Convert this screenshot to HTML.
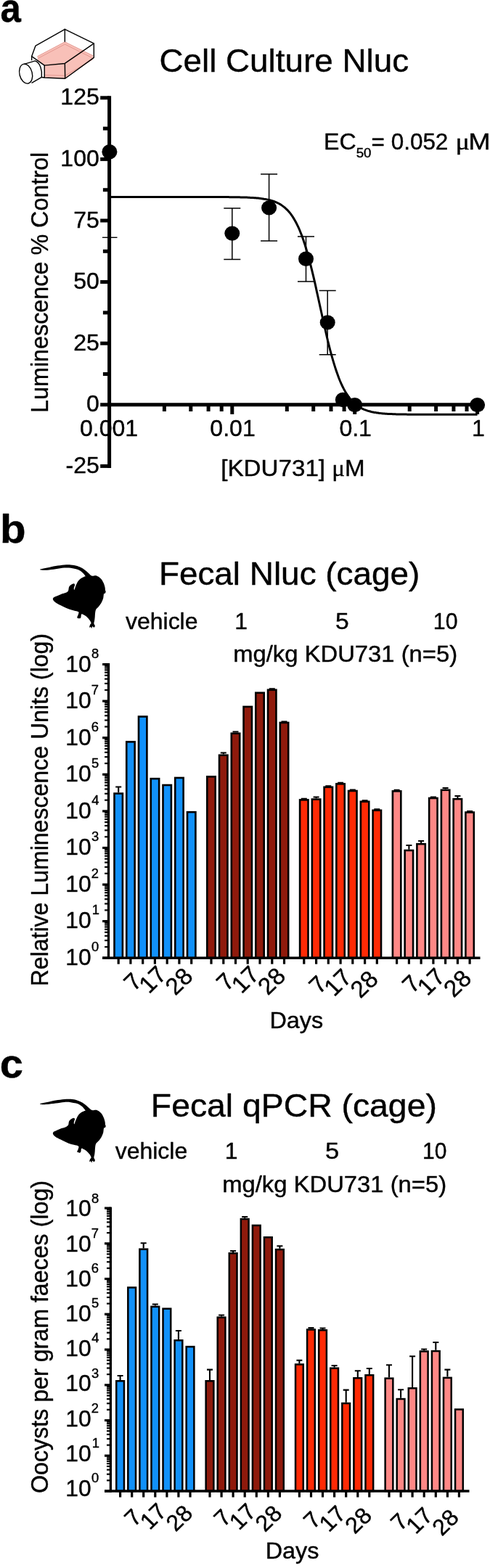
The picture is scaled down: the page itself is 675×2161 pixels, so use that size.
<!DOCTYPE html>
<html><head><meta charset="utf-8"><title>Figure</title>
<style>
html,body{margin:0;padding:0;background:#fff;overflow:hidden;}
svg{display:block;}
text{font-family:"Liberation Sans", Arial, Helvetica, sans-serif;fill:#000;stroke:#000;stroke-width:0.4px;stroke-linejoin:round;}
</style></head><body>
<svg width="675" height="2161" viewBox="0 0 675 2161">
<rect width="675" height="2161" fill="#fff"/>
<g id="panelA">
<text font-size="54.8" font-weight="bold" transform="translate(0.61,29.8) scale(0.9299,1)">a</text>
<g transform="translate(20,35) scale(0.17778)" stroke="#000" stroke-width="8" stroke-linejoin="round" stroke-linecap="round" fill="none">
<path d="M178,240 L390,128 L608,235 L608,262 L392,412 L232,405 L232,310 L178,268 Z" fill="#f8c0b8" stroke="none"/>
<path d="M185,254 L390,146 L598,250 M236,385 L392,390 L604,264 M178,240 L390,128 L608,235" stroke="#e0918a" stroke-width="5"/>
<path d="M133,240 L163,158 L390,30 L615,140 L390,295 L232,310 Z"/>
<path d="M390,30 V125 M615,140 V250 L392,412 L232,405 L210,402 M390,295 L392,412 M232,310 V405 M133,240 V268"/>
<path d="M75,300 L160,275 C200,290 216,350 210,402 L135,445" fill="#fff"/>
<ellipse cx="88" cy="375" rx="49" ry="77" transform="rotate(-14 88 375)" fill="#fff"/>
</g>
<text font-size="45.3" transform="translate(219.42,98.5) scale(1.0112,1)">Cell Culture Nluc</text>
<g stroke="#000" stroke-width="5" fill="none">
<path d="M150.6,132.3 V644.9"/>
<path d="M138.2,642.4 H150.6"/>
<path d="M138.2,473.2 H150.6"/>
<path d="M138.2,388.6 H150.6"/>
<path d="M138.2,304.0 H150.6"/>
<path d="M138.2,219.4 H150.6"/>
<path d="M138.2,134.8 H150.6"/>
<path d="M141.9,177.1 H150.6"/>
<path d="M141.9,261.7 H150.6"/>
<path d="M141.9,346.3 H150.6"/>
<path d="M141.9,430.9 H150.6"/>
<path d="M141.9,515.5 H150.6"/>
<path d="M138.2,557.8 H660"/>
<path d="M226.4,557.8 V567.0"/>
<path d="M262.8,557.8 V567.0"/>
<path d="M287.1,557.8 V567.0"/>
<path d="M305.2,557.8 V567.0"/>
<path d="M395.3,557.8 V567.0"/>
<path d="M431.7,557.8 V567.0"/>
<path d="M456.0,557.8 V567.0"/>
<path d="M474.1,557.8 V567.0"/>
<path d="M564.2,557.8 V567.0"/>
<path d="M600.6,557.8 V567.0"/>
<path d="M624.9,557.8 V567.0"/>
<path d="M643.0,557.8 V567.0"/>
<path d="M319.8,557.8 V570.9"/>
<path d="M488.7,557.8 V570.9"/>
<path d="M657.6,557.8 V570.9"/>
</g>
<text font-size="31" transform="translate(90.58,652.0) scale(1.0350,1)">-25</text>
<text font-size="31" transform="translate(119.04,567.4) scale(1.0350,1)">0</text>
<text font-size="31" transform="translate(101.19,482.8) scale(1.0350,1)">25</text>
<text font-size="31" transform="translate(101.19,398.2) scale(1.0350,1)">50</text>
<text font-size="31" transform="translate(101.19,313.6) scale(1.0350,1)">75</text>
<text font-size="31" transform="translate(83.33,229.0) scale(1.0350,1)">100</text>
<text font-size="31" transform="translate(83.33,144.4) scale(1.0350,1)">125</text>
<text font-size="31" transform="translate(109.92,600.8) scale(1.0350,1)">0.001</text>
<text font-size="31" transform="translate(289.35,600.8) scale(1.0350,1)">0.01</text>
<text font-size="31" transform="translate(467.38,600.8) scale(1.0350,1)">0.1</text>
<text font-size="31" transform="translate(649.88,600.8) scale(1.0350,1)">1</text>
<text font-size="31" transform="translate(304.19,655.7) scale(1.0705,1)">[KDU731] <tspan style='font-family:"Liberation Serif", "DejaVu Serif", serif'>μ</tspan>M</text>
<text font-size="32" transform="translate(66.3,568.98) rotate(-90) scale(1.0101,1.035)">Luminescence % Control</text>
<text font-size="31" transform="translate(446.11,205.5) scale(1.0344,1)">EC</text>
<text font-size="17.5" transform="translate(490.70,216.8) scale(1.0667,1)">50</text>
<text font-size="31" transform="translate(511.58,205.5) scale(1.0143,1)">= 0.052</text>
<text font-size="31" transform="translate(627.58,205.5) scale(1.1686,1)"><tspan style='font-family:"Liberation Serif", "DejaVu Serif", serif'>μ</tspan></text>
<text font-size="31" transform="translate(645.26,205.5) scale(1.1759,1)">M</text>
<path d="M150.9,271.5 L152.6,271.5 L154.3,271.5 L156.0,271.5 L157.7,271.5 L159.3,271.5 L161.0,271.5 L162.7,271.5 L164.4,271.5 L166.1,271.5 L167.8,271.5 L169.5,271.5 L171.2,271.5 L172.9,271.5 L174.5,271.5 L176.2,271.5 L177.9,271.5 L179.6,271.5 L181.3,271.5 L183.0,271.5 L184.7,271.5 L186.4,271.5 L188.1,271.5 L189.7,271.5 L191.4,271.5 L193.1,271.5 L194.8,271.5 L196.5,271.5 L198.2,271.5 L199.9,271.5 L201.6,271.5 L203.3,271.5 L204.9,271.5 L206.6,271.5 L208.3,271.5 L210.0,271.5 L211.7,271.5 L213.4,271.5 L215.1,271.5 L216.8,271.5 L218.5,271.5 L220.1,271.5 L221.8,271.5 L223.5,271.5 L225.2,271.5 L226.9,271.5 L228.6,271.5 L230.3,271.5 L232.0,271.5 L233.7,271.5 L235.4,271.5 L237.0,271.5 L238.7,271.5 L240.4,271.5 L242.1,271.5 L243.8,271.5 L245.5,271.5 L247.2,271.5 L248.9,271.5 L250.6,271.5 L252.2,271.5 L253.9,271.5 L255.6,271.5 L257.3,271.5 L259.0,271.5 L260.7,271.5 L262.4,271.5 L264.1,271.5 L265.8,271.5 L267.4,271.5 L269.1,271.5 L270.8,271.5 L272.5,271.5 L274.2,271.5 L275.9,271.5 L277.6,271.5 L279.3,271.5 L281.0,271.5 L282.6,271.5 L284.3,271.5 L286.0,271.5 L287.7,271.5 L289.4,271.5 L291.1,271.5 L292.8,271.5 L294.5,271.6 L296.2,271.6 L297.8,271.6 L299.5,271.6 L301.2,271.6 L302.9,271.6 L304.6,271.6 L306.3,271.6 L308.0,271.6 L309.7,271.6 L311.4,271.6 L313.0,271.6 L314.7,271.6 L316.4,271.7 L318.1,271.7 L319.8,271.7 L321.5,271.7 L323.2,271.7 L324.9,271.8 L326.6,271.8 L328.2,271.8 L329.9,271.8 L331.6,271.9 L333.3,271.9 L335.0,272.0 L336.7,272.0 L338.4,272.1 L340.1,272.1 L341.8,272.2 L343.4,272.3 L345.1,272.4 L346.8,272.5 L348.5,272.6 L350.2,272.7 L351.9,272.8 L353.6,272.9 L355.3,273.1 L357.0,273.3 L358.6,273.5 L360.3,273.7 L362.0,273.9 L363.7,274.2 L365.4,274.4 L367.1,274.8 L368.8,275.1 L370.5,275.5 L372.2,275.9 L373.8,276.4 L375.5,276.9 L377.2,277.5 L378.9,278.1 L380.6,278.8 L382.3,279.6 L384.0,280.5 L385.7,281.4 L387.4,282.4 L389.0,283.6 L390.7,284.9 L392.4,286.2 L394.1,287.8 L395.8,289.4 L397.5,291.3 L399.2,293.2 L400.9,295.4 L402.6,297.8 L404.2,300.4 L405.9,303.2 L407.6,306.3 L409.3,309.6 L411.0,313.2 L412.7,317.0 L414.4,321.2 L416.1,325.6 L417.8,330.4 L419.5,335.4 L421.1,340.8 L422.8,346.5 L424.5,352.5 L426.2,358.7 L427.9,365.3 L429.6,372.1 L431.3,379.1 L433.0,386.4 L434.7,393.8 L436.3,401.4 L438.0,409.0 L439.7,416.8 L441.4,424.5 L443.1,432.3 L444.8,440.0 L446.5,447.6 L448.2,455.0 L449.9,462.3 L451.5,469.4 L453.2,476.2 L454.9,482.8 L456.6,489.2 L458.3,495.2 L460.0,500.9 L461.7,506.4 L463.4,511.5 L465.1,516.3 L466.7,520.8 L468.4,525.0 L470.1,528.9 L471.8,532.5 L473.5,535.9 L475.2,539.0 L476.9,541.9 L478.6,544.5 L480.3,547.0 L481.9,549.2 L483.6,551.2 L485.3,553.1 L487.0,554.8 L488.7,556.3 L490.4,557.7 L492.1,559.0 L493.8,560.2 L495.5,561.2 L497.1,562.2 L498.8,563.1 L500.5,563.9 L502.2,564.6 L503.9,565.2 L505.6,565.8 L507.3,566.4 L509.0,566.8 L510.7,567.3 L512.3,567.7 L514.0,568.0 L515.7,568.4 L517.4,568.6 L519.1,568.9 L520.8,569.1 L522.5,569.4 L524.2,569.6 L525.9,569.7 L527.5,569.9 L529.2,570.0 L530.9,570.2 L532.6,570.3 L534.3,570.4 L536.0,570.5 L537.7,570.6 L539.4,570.6 L541.1,570.7 L542.7,570.8 L544.4,570.8 L546.1,570.9 L547.8,570.9 L549.5,571.0 L551.2,571.0 L552.9,571.0 L554.6,571.1 L556.3,571.1 L557.9,571.1 L559.6,571.1 L561.3,571.2 L563.0,571.2 L564.7,571.2 L566.4,571.2 L568.1,571.2 L569.8,571.2 L571.5,571.2 L573.1,571.2 L574.8,571.3 L576.5,571.3 L578.2,571.3 L579.9,571.3 L581.6,571.3 L583.3,571.3 L585.0,571.3 L586.7,571.3 L588.4,571.3 L590.0,571.3 L591.7,571.3 L593.4,571.3 L595.1,571.3 L596.8,571.3 L598.5,571.3 L600.2,571.3 L601.9,571.3 L603.6,571.3 L605.2,571.3 L606.9,571.3 L608.6,571.3 L610.3,571.3 L612.0,571.3 L613.7,571.3 L615.4,571.3 L617.1,571.3 L618.8,571.3 L620.4,571.3 L622.1,571.3 L623.8,571.3 L625.5,571.3 L627.2,571.3 L628.9,571.3 L630.6,571.3 L632.3,571.3 L634.0,571.3 L635.6,571.3 L637.3,571.3 L639.0,571.3 L640.7,571.3 L642.4,571.3 L644.1,571.3 L645.8,571.3 L647.5,571.3 L649.2,571.3 L650.8,571.3 L652.5,571.3 L654.2,571.3 L655.9,571.3 L657.6,571.3" stroke="#000" stroke-width="3" fill="none"/>
<path d="M141,327.3 H161.5" stroke="#000" stroke-width="1.4"/>
<ellipse cx="150.9" cy="209.2" rx="10.5" ry="10.2" fill="#000"/>
<path d="M319.8,357.5 V287.1 M308.3,357.5 H331.3 M308.3,287.1 H331.3" stroke="#000" stroke-width="1.5" fill="none"/>
<ellipse cx="319.8" cy="321.6" rx="10.5" ry="10.2" fill="#000"/>
<path d="M370.6,332.1 V240.0 M359.1,332.1 H382.1 M359.1,240.0 H382.1" stroke="#000" stroke-width="1.5" fill="none"/>
<ellipse cx="370.6" cy="286.4" rx="10.5" ry="10.2" fill="#000"/>
<path d="M421.5,387.9 V326.0 M410.0,387.9 H433.0 M410.0,326.0 H433.0" stroke="#000" stroke-width="1.5" fill="none"/>
<ellipse cx="421.5" cy="356.8" rx="10.5" ry="10.2" fill="#000"/>
<path d="M451.2,488.8 V400.4 M439.7,488.8 H462.7 M439.7,400.4 H462.7" stroke="#000" stroke-width="1.5" fill="none"/>
<ellipse cx="451.2" cy="444.4" rx="10.5" ry="10.2" fill="#000"/>
<ellipse cx="472.3" cy="551.0" rx="10.5" ry="10.2" fill="#000"/>
<ellipse cx="488.7" cy="558.1" rx="10.5" ry="10.2" fill="#000"/>
<ellipse cx="657.6" cy="558.1" rx="10.5" ry="10.2" fill="#000"/>
</g>
<g id="panelB">
<text font-size="54.8" font-weight="bold" transform="translate(-0.12,748.2) scale(1.0631,1)">b</text>
<path transform="translate(50,770) scale(0.14815)" d="M42,97 C52,94 77,90 100,85 C123,80 153,72 180,68 C207,64 237,60 260,58 C283,56 300,55 320,57 C340,59 362,62 380,68 C398,74 415,81 430,90 C445,99 458,110 470,120 C482,130 492,141 500,148 C508,155 510,158 520,160 C530,162 547,154 560,158 C573,162 589,174 600,185 C611,196 619,212 625,225 C631,238 635,254 638,265 C641,276 640,285 641,292 C642,299 646,301 646,306 C646,311 643,318 640,322 C637,326 631,320 628,328 C625,336 626,356 622,370 C618,384 612,398 605,410 C598,422 588,435 580,445 C572,455 561,461 556,470 C551,479 550,488 548,500 C546,512 546,527 545,540 C544,553 542,570 540,580 C538,590 535,594 536,602 C537,610 546,619 546,625 C546,631 540,639 536,640 C532,641 526,629 522,630 C518,631 518,647 515,648 C512,649 510,635 506,634 C502,633 495,643 494,640 C493,637 497,622 500,615 C503,608 511,606 510,598 C509,590 502,579 495,570 C488,561 479,550 470,542 C461,534 448,526 440,522 C432,518 424,512 420,516 C416,520 417,539 414,546 C411,553 406,556 400,556 C394,556 382,554 380,548 C378,542 388,529 390,520 C392,511 399,501 392,495 C385,489 365,486 350,482 C335,478 317,474 300,468 C283,462 267,453 250,445 C233,437 213,428 200,420 C187,412 178,407 170,400 C162,393 157,386 155,380 C153,374 155,367 160,362 C165,357 173,355 185,350 C197,345 216,335 230,330 C244,325 259,323 270,318 C281,313 290,309 296,300 C302,291 300,272 305,262 C310,252 318,247 325,242 C332,237 344,231 350,232 C356,233 358,240 358,246 C358,252 351,263 350,270 C349,277 350,292 353,290 C356,288 360,270 365,258 C370,246 378,227 385,215 C392,203 401,194 410,187 C419,180 432,174 440,170 C448,166 456,169 456,164 C456,159 448,148 440,140 C432,132 422,120 410,113 C398,106 385,100 370,96 C355,92 338,88 320,86 C302,84 283,83 260,85 C237,87 207,92 180,96 C153,100 123,104 100,106 C77,108 52,106 42,105 C32,104 32,100 42,97Z" fill="#000"/>
<text font-size="45.3" transform="translate(218.90,805.7) scale(1.0129,1)">Fecal Nluc (cage)</text>
<text font-size="31" transform="translate(173.04,866.7) scale(1.0311,1)">vehicle</text>
<text font-size="31" transform="translate(323.33,866.7) scale(1.0300,1)">1</text>
<text font-size="31" transform="translate(461.94,866.7) scale(1.0847,1)">5</text>
<text font-size="31" transform="translate(596.80,866.7) scale(0.9774,1)">10</text>
<text font-size="31" transform="translate(321.18,912.3) scale(1.0581,1)">mg/kg KDU731 (n=5)</text>
<path d="M163.2,1092.3 V1084.5 M159.2,1084.5 H167.2" stroke="#000" stroke-width="2.1" fill="none"/>
<rect x="157.50" y="1093.60" width="11.40" height="226.60" fill="#1191fa" stroke="#000" stroke-width="2.6"/>
<rect x="174.25" y="1022.40" width="11.40" height="297.80" fill="#1191fa" stroke="#000" stroke-width="2.6"/>
<rect x="191.00" y="987.60" width="11.40" height="332.60" fill="#1191fa" stroke="#000" stroke-width="2.6"/>
<rect x="207.75" y="1073.20" width="11.40" height="247.00" fill="#1191fa" stroke="#000" stroke-width="2.6"/>
<rect x="224.50" y="1082.00" width="11.40" height="238.20" fill="#1191fa" stroke="#000" stroke-width="2.6"/>
<rect x="241.25" y="1072.00" width="11.40" height="248.20" fill="#1191fa" stroke="#000" stroke-width="2.6"/>
<rect x="258.00" y="1119.20" width="11.40" height="201.00" fill="#1191fa" stroke="#000" stroke-width="2.6"/>
<rect x="285.30" y="1070.40" width="11.40" height="249.80" fill="#8f1a0c" stroke="#000" stroke-width="2.6"/>
<path d="M307.8,1039.5 V1037.5 M303.8,1037.5 H311.8" stroke="#000" stroke-width="2.1" fill="none"/>
<rect x="302.05" y="1040.80" width="11.40" height="279.40" fill="#8f1a0c" stroke="#000" stroke-width="2.6"/>
<path d="M324.5,1009.5 V1008.5 M320.5,1008.5 H328.5" stroke="#000" stroke-width="2.1" fill="none"/>
<rect x="318.80" y="1010.80" width="11.40" height="309.40" fill="#8f1a0c" stroke="#000" stroke-width="2.6"/>
<rect x="335.55" y="974.00" width="11.40" height="346.20" fill="#8f1a0c" stroke="#000" stroke-width="2.6"/>
<rect x="352.30" y="954.80" width="11.40" height="365.40" fill="#8f1a0c" stroke="#000" stroke-width="2.6"/>
<path d="M374.8,949.5 V949.3 M370.8,949.3 H378.8" stroke="#000" stroke-width="2.1" fill="none"/>
<rect x="369.05" y="950.80" width="11.40" height="369.40" fill="#8f1a0c" stroke="#000" stroke-width="2.6"/>
<path d="M391.5,994.7 V994.5 M387.5,994.5 H395.5" stroke="#000" stroke-width="2.1" fill="none"/>
<rect x="385.80" y="996.00" width="11.40" height="324.20" fill="#8f1a0c" stroke="#000" stroke-width="2.6"/>
<path d="M418.8,1101.1 V1100.9 M414.8,1100.9 H422.8" stroke="#000" stroke-width="2.1" fill="none"/>
<rect x="413.10" y="1102.40" width="11.40" height="217.80" fill="#ff2a05" stroke="#000" stroke-width="2.6"/>
<path d="M435.6,1100.3 V1098.5 M431.6,1098.5 H439.6" stroke="#000" stroke-width="2.1" fill="none"/>
<rect x="429.85" y="1101.60" width="11.40" height="218.60" fill="#ff2a05" stroke="#000" stroke-width="2.6"/>
<path d="M452.3,1083.5 V1083.3 M448.3,1083.3 H456.3" stroke="#000" stroke-width="2.1" fill="none"/>
<rect x="446.60" y="1084.80" width="11.40" height="235.40" fill="#ff2a05" stroke="#000" stroke-width="2.6"/>
<path d="M469.1,1079.1 V1078.9 M465.1,1078.9 H473.1" stroke="#000" stroke-width="2.1" fill="none"/>
<rect x="463.35" y="1080.40" width="11.40" height="239.80" fill="#ff2a05" stroke="#000" stroke-width="2.6"/>
<path d="M485.8,1088.7 V1088.5 M481.8,1088.5 H489.8" stroke="#000" stroke-width="2.1" fill="none"/>
<rect x="480.10" y="1090.00" width="11.40" height="230.20" fill="#ff2a05" stroke="#000" stroke-width="2.6"/>
<path d="M502.6,1103.5 V1103.3 M498.6,1103.3 H506.6" stroke="#000" stroke-width="2.1" fill="none"/>
<rect x="496.85" y="1104.80" width="11.40" height="215.40" fill="#ff2a05" stroke="#000" stroke-width="2.6"/>
<path d="M519.3,1115.5 V1115.3 M515.3,1115.3 H523.3" stroke="#000" stroke-width="2.1" fill="none"/>
<rect x="513.60" y="1116.80" width="11.40" height="203.40" fill="#ff2a05" stroke="#000" stroke-width="2.6"/>
<path d="M546.6,1089.1 V1088.9 M542.6,1088.9 H550.6" stroke="#000" stroke-width="2.1" fill="none"/>
<rect x="540.90" y="1090.40" width="11.40" height="229.80" fill="#ff8886" stroke="#000" stroke-width="2.6"/>
<path d="M563.4,1170.7 V1165.0 M559.4,1165.0 H567.4" stroke="#000" stroke-width="2.1" fill="none"/>
<rect x="557.65" y="1172.00" width="11.40" height="148.20" fill="#ff8886" stroke="#000" stroke-width="2.6"/>
<path d="M580.1,1161.9 V1159.0 M576.1,1159.0 H584.1" stroke="#000" stroke-width="2.1" fill="none"/>
<rect x="574.40" y="1163.20" width="11.40" height="157.00" fill="#ff8886" stroke="#000" stroke-width="2.6"/>
<path d="M596.9,1098.7 V1098.5 M592.9,1098.5 H600.9" stroke="#000" stroke-width="2.1" fill="none"/>
<rect x="591.15" y="1100.00" width="11.40" height="220.20" fill="#ff8886" stroke="#000" stroke-width="2.6"/>
<path d="M613.6,1087.5 V1086.0 M609.6,1086.0 H617.6" stroke="#000" stroke-width="2.1" fill="none"/>
<rect x="607.90" y="1088.80" width="11.40" height="231.40" fill="#ff8886" stroke="#000" stroke-width="2.6"/>
<path d="M630.4,1099.9 V1097.0 M626.4,1097.0 H634.4" stroke="#000" stroke-width="2.1" fill="none"/>
<rect x="624.65" y="1101.20" width="11.40" height="219.00" fill="#ff8886" stroke="#000" stroke-width="2.6"/>
<path d="M647.1,1118.3 V1118.1 M643.1,1118.1 H651.1" stroke="#000" stroke-width="2.1" fill="none"/>
<rect x="641.40" y="1119.60" width="11.40" height="200.60" fill="#ff8886" stroke="#000" stroke-width="2.6"/>
<g stroke="#000" fill="none">
<path d="M149.5,914.0 V1321.9" stroke-width="3.3"/>
<path d="M141.1,1320.2 H149.5" stroke-width="3.2"/>
<path d="M144.1,1305.0 H149.5" stroke-width="2.2"/>
<path d="M144.1,1296.1 H149.5" stroke-width="2.2"/>
<path d="M144.1,1289.8 H149.5" stroke-width="2.2"/>
<path d="M144.1,1284.8 H149.5" stroke-width="2.2"/>
<path d="M144.1,1280.8 H149.5" stroke-width="2.2"/>
<path d="M144.1,1277.5 H149.5" stroke-width="2.2"/>
<path d="M144.1,1274.5 H149.5" stroke-width="2.2"/>
<path d="M144.1,1271.9 H149.5" stroke-width="2.2"/>
<path d="M141.1,1269.6 H149.5" stroke-width="3.2"/>
<path d="M144.1,1254.4 H149.5" stroke-width="2.2"/>
<path d="M144.1,1245.5 H149.5" stroke-width="2.2"/>
<path d="M144.1,1239.2 H149.5" stroke-width="2.2"/>
<path d="M144.1,1234.3 H149.5" stroke-width="2.2"/>
<path d="M144.1,1230.3 H149.5" stroke-width="2.2"/>
<path d="M144.1,1226.9 H149.5" stroke-width="2.2"/>
<path d="M144.1,1224.0 H149.5" stroke-width="2.2"/>
<path d="M144.1,1221.4 H149.5" stroke-width="2.2"/>
<path d="M141.1,1219.1 H149.5" stroke-width="3.2"/>
<path d="M144.1,1203.8 H149.5" stroke-width="2.2"/>
<path d="M144.1,1194.9 H149.5" stroke-width="2.2"/>
<path d="M144.1,1188.6 H149.5" stroke-width="2.2"/>
<path d="M144.1,1183.7 H149.5" stroke-width="2.2"/>
<path d="M144.1,1179.7 H149.5" stroke-width="2.2"/>
<path d="M144.1,1176.3 H149.5" stroke-width="2.2"/>
<path d="M144.1,1173.4 H149.5" stroke-width="2.2"/>
<path d="M144.1,1170.8 H149.5" stroke-width="2.2"/>
<path d="M141.1,1168.5 H149.5" stroke-width="3.2"/>
<path d="M144.1,1153.3 H149.5" stroke-width="2.2"/>
<path d="M144.1,1144.3 H149.5" stroke-width="2.2"/>
<path d="M144.1,1138.0 H149.5" stroke-width="2.2"/>
<path d="M144.1,1133.1 H149.5" stroke-width="2.2"/>
<path d="M144.1,1129.1 H149.5" stroke-width="2.2"/>
<path d="M144.1,1125.7 H149.5" stroke-width="2.2"/>
<path d="M144.1,1122.8 H149.5" stroke-width="2.2"/>
<path d="M144.1,1120.2 H149.5" stroke-width="2.2"/>
<path d="M141.1,1117.9 H149.5" stroke-width="3.2"/>
<path d="M144.1,1102.7 H149.5" stroke-width="2.2"/>
<path d="M144.1,1093.8 H149.5" stroke-width="2.2"/>
<path d="M144.1,1087.5 H149.5" stroke-width="2.2"/>
<path d="M144.1,1082.5 H149.5" stroke-width="2.2"/>
<path d="M144.1,1078.5 H149.5" stroke-width="2.2"/>
<path d="M144.1,1075.2 H149.5" stroke-width="2.2"/>
<path d="M144.1,1072.2 H149.5" stroke-width="2.2"/>
<path d="M144.1,1069.6 H149.5" stroke-width="2.2"/>
<path d="M141.1,1067.3 H149.5" stroke-width="3.2"/>
<path d="M144.1,1052.1 H149.5" stroke-width="2.2"/>
<path d="M144.1,1043.2 H149.5" stroke-width="2.2"/>
<path d="M144.1,1036.9 H149.5" stroke-width="2.2"/>
<path d="M144.1,1032.0 H149.5" stroke-width="2.2"/>
<path d="M144.1,1028.0 H149.5" stroke-width="2.2"/>
<path d="M144.1,1024.6 H149.5" stroke-width="2.2"/>
<path d="M144.1,1021.7 H149.5" stroke-width="2.2"/>
<path d="M144.1,1019.1 H149.5" stroke-width="2.2"/>
<path d="M141.1,1016.8 H149.5" stroke-width="3.2"/>
<path d="M144.1,1001.5 H149.5" stroke-width="2.2"/>
<path d="M144.1,992.6 H149.5" stroke-width="2.2"/>
<path d="M144.1,986.3 H149.5" stroke-width="2.2"/>
<path d="M144.1,981.4 H149.5" stroke-width="2.2"/>
<path d="M144.1,977.4 H149.5" stroke-width="2.2"/>
<path d="M144.1,974.0 H149.5" stroke-width="2.2"/>
<path d="M144.1,971.1 H149.5" stroke-width="2.2"/>
<path d="M144.1,968.5 H149.5" stroke-width="2.2"/>
<path d="M141.1,966.2 H149.5" stroke-width="3.2"/>
<path d="M144.1,951.0 H149.5" stroke-width="2.2"/>
<path d="M144.1,942.0 H149.5" stroke-width="2.2"/>
<path d="M144.1,935.7 H149.5" stroke-width="2.2"/>
<path d="M144.1,930.8 H149.5" stroke-width="2.2"/>
<path d="M144.1,926.8 H149.5" stroke-width="2.2"/>
<path d="M144.1,923.4 H149.5" stroke-width="2.2"/>
<path d="M144.1,920.5 H149.5" stroke-width="2.2"/>
<path d="M144.1,917.9 H149.5" stroke-width="2.2"/>
<path d="M141.1,915.6 H149.5" stroke-width="3.2"/>
<path d="M141.1,1320.2 H661.5" stroke-width="3.6"/>
<path d="M163.2,1320.2 V1328.7" stroke-width="3.2"/>
<path d="M179.9,1320.2 V1328.7" stroke-width="3.2"/>
<path d="M196.7,1320.2 V1328.7" stroke-width="3.2"/>
<path d="M213.4,1320.2 V1328.7" stroke-width="3.2"/>
<path d="M230.2,1320.2 V1328.7" stroke-width="3.2"/>
<path d="M246.9,1320.2 V1328.7" stroke-width="3.2"/>
<path d="M263.7,1320.2 V1328.7" stroke-width="3.2"/>
<path d="M291.0,1320.2 V1328.7" stroke-width="3.2"/>
<path d="M307.8,1320.2 V1328.7" stroke-width="3.2"/>
<path d="M324.5,1320.2 V1328.7" stroke-width="3.2"/>
<path d="M341.2,1320.2 V1328.7" stroke-width="3.2"/>
<path d="M358.0,1320.2 V1328.7" stroke-width="3.2"/>
<path d="M374.8,1320.2 V1328.7" stroke-width="3.2"/>
<path d="M391.5,1320.2 V1328.7" stroke-width="3.2"/>
<path d="M418.8,1320.2 V1328.7" stroke-width="3.2"/>
<path d="M435.6,1320.2 V1328.7" stroke-width="3.2"/>
<path d="M452.3,1320.2 V1328.7" stroke-width="3.2"/>
<path d="M469.1,1320.2 V1328.7" stroke-width="3.2"/>
<path d="M485.8,1320.2 V1328.7" stroke-width="3.2"/>
<path d="M502.6,1320.2 V1328.7" stroke-width="3.2"/>
<path d="M519.3,1320.2 V1328.7" stroke-width="3.2"/>
<path d="M546.6,1320.2 V1328.7" stroke-width="3.2"/>
<path d="M563.4,1320.2 V1328.7" stroke-width="3.2"/>
<path d="M580.1,1320.2 V1328.7" stroke-width="3.2"/>
<path d="M596.9,1320.2 V1328.7" stroke-width="3.2"/>
<path d="M613.6,1320.2 V1328.7" stroke-width="3.2"/>
<path d="M630.4,1320.2 V1328.7" stroke-width="3.2"/>
<path d="M647.1,1320.2 V1328.7" stroke-width="3.2"/>
</g>
<text font-size="31" transform="translate(90.29,1329.6) scale(1.0258,1)">10</text>
<text font-size="17.8" transform="translate(126.02,1310.8) scale(1.0350,1)">0</text>
<text font-size="31" transform="translate(90.29,1279.1) scale(1.0258,1)">10</text>
<text font-size="17.8" transform="translate(126.71,1260.3) scale(1.0350,1)">1</text>
<text font-size="31" transform="translate(90.29,1228.6) scale(1.0258,1)">10</text>
<text font-size="17.8" transform="translate(125.77,1209.8) scale(1.0350,1)">2</text>
<text font-size="31" transform="translate(90.29,1178.1) scale(1.0258,1)">10</text>
<text font-size="17.8" transform="translate(126.02,1159.3) scale(1.0350,1)">3</text>
<text font-size="31" transform="translate(90.29,1127.6) scale(1.0258,1)">10</text>
<text font-size="17.8" transform="translate(126.28,1108.8) scale(1.0350,1)">4</text>
<text font-size="31" transform="translate(90.29,1077.1) scale(1.0258,1)">10</text>
<text font-size="17.8" transform="translate(126.02,1058.3) scale(1.0350,1)">5</text>
<text font-size="31" transform="translate(90.29,1026.6) scale(1.0258,1)">10</text>
<text font-size="17.8" transform="translate(125.77,1007.8) scale(1.0350,1)">6</text>
<text font-size="31" transform="translate(90.29,976.1) scale(1.0258,1)">10</text>
<text font-size="17.8" transform="translate(125.77,957.3) scale(1.0350,1)">7</text>
<text font-size="31" transform="translate(90.29,925.6) scale(1.0258,1)">10</text>
<text font-size="17.8" transform="translate(126.02,906.8) scale(1.0350,1)">8</text>
<text font-size="32.5" text-anchor="end" transform="translate(197.60,1354.50) scale(1.03,1) rotate(-45)">7</text>
<text font-size="32.5" text-anchor="end" transform="translate(231.50,1345.00) scale(1.03,1) rotate(-45)">17</text>
<text font-size="32.5" text-anchor="end" transform="translate(267.75,1347.40) scale(1.03,1) rotate(-45)">28</text>
<text font-size="32.5" text-anchor="end" transform="translate(325.20,1354.40) scale(1.03,1) rotate(-45)">7</text>
<text font-size="32.5" text-anchor="end" transform="translate(359.10,1344.90) scale(1.03,1) rotate(-45)">17</text>
<text font-size="32.5" text-anchor="end" transform="translate(395.35,1347.30) scale(1.03,1) rotate(-45)">28</text>
<text font-size="32.5" text-anchor="end" transform="translate(452.70,1358.50) scale(1.03,1) rotate(-45)">7</text>
<text font-size="32.5" text-anchor="end" transform="translate(486.60,1349.00) scale(1.03,1) rotate(-45)">17</text>
<text font-size="32.5" text-anchor="end" transform="translate(522.85,1351.40) scale(1.03,1) rotate(-45)">28</text>
<text font-size="32.5" text-anchor="end" transform="translate(581.20,1357.50) scale(1.03,1) rotate(-45)">7</text>
<text font-size="32.5" text-anchor="end" transform="translate(615.10,1348.00) scale(1.03,1) rotate(-45)">17</text>
<text font-size="32.5" text-anchor="end" transform="translate(651.35,1350.40) scale(1.03,1) rotate(-45)">28</text>
<text font-size="31" transform="translate(371.39,1417.3) scale(1.0448,1)">Days</text>
<text font-size="32" transform="translate(66.3,1359.36) rotate(-90) scale(1.0022,1.035)">Relative Luminescence Units (log)</text>
</g>
<g id="panelC">
<text font-size="54.8" font-weight="bold" transform="translate(-0.18,1485.3) scale(1.0566,1)">c</text>
<path transform="translate(50,1506.4) scale(0.14815)" d="M42,97 C52,94 77,90 100,85 C123,80 153,72 180,68 C207,64 237,60 260,58 C283,56 300,55 320,57 C340,59 362,62 380,68 C398,74 415,81 430,90 C445,99 458,110 470,120 C482,130 492,141 500,148 C508,155 510,158 520,160 C530,162 547,154 560,158 C573,162 589,174 600,185 C611,196 619,212 625,225 C631,238 635,254 638,265 C641,276 640,285 641,292 C642,299 646,301 646,306 C646,311 643,318 640,322 C637,326 631,320 628,328 C625,336 626,356 622,370 C618,384 612,398 605,410 C598,422 588,435 580,445 C572,455 561,461 556,470 C551,479 550,488 548,500 C546,512 546,527 545,540 C544,553 542,570 540,580 C538,590 535,594 536,602 C537,610 546,619 546,625 C546,631 540,639 536,640 C532,641 526,629 522,630 C518,631 518,647 515,648 C512,649 510,635 506,634 C502,633 495,643 494,640 C493,637 497,622 500,615 C503,608 511,606 510,598 C509,590 502,579 495,570 C488,561 479,550 470,542 C461,534 448,526 440,522 C432,518 424,512 420,516 C416,520 417,539 414,546 C411,553 406,556 400,556 C394,556 382,554 380,548 C378,542 388,529 390,520 C392,511 399,501 392,495 C385,489 365,486 350,482 C335,478 317,474 300,468 C283,462 267,453 250,445 C233,437 213,428 200,420 C187,412 178,407 170,400 C162,393 157,386 155,380 C153,374 155,367 160,362 C165,357 173,355 185,350 C197,345 216,335 230,330 C244,325 259,323 270,318 C281,313 290,309 296,300 C302,291 300,272 305,262 C310,252 318,247 325,242 C332,237 344,231 350,232 C356,233 358,240 358,246 C358,252 351,263 350,270 C349,277 350,292 353,290 C356,288 360,270 365,258 C370,246 378,227 385,215 C392,203 401,194 410,187 C419,180 432,174 440,170 C448,166 456,169 456,164 C456,159 448,148 440,140 C432,132 422,120 410,113 C398,106 385,100 370,96 C355,92 338,88 320,86 C302,84 283,83 260,85 C237,87 207,92 180,96 C153,100 123,104 100,106 C77,108 52,106 42,105 C32,104 32,100 42,97Z" fill="#000"/>
<text font-size="45.3" transform="translate(207.86,1538.8) scale(1.0232,1)">Fecal qPCR (cage)</text>
<text font-size="31" transform="translate(158.74,1596.7) scale(1.0311,1)">vehicle</text>
<text font-size="31" transform="translate(309.73,1596.7) scale(1.0300,1)">1</text>
<text font-size="31" transform="translate(447.91,1596.7) scale(1.1119,1)">5</text>
<text font-size="31" transform="translate(582.12,1596.7) scale(0.9677,1)">10</text>
<text font-size="31" transform="translate(306.18,1643.3) scale(1.0581,1)">mg/kg KDU731 (n=5)</text>
<path d="M165.6,1902.0 V1896.0 M161.6,1896.0 H169.6" stroke="#000" stroke-width="2.1" fill="none"/>
<rect x="160.25" y="1903.25" width="10.70" height="151.75" fill="#1191fa" stroke="#000" stroke-width="2.5"/>
<rect x="176.32" y="1774.45" width="10.70" height="280.55" fill="#1191fa" stroke="#000" stroke-width="2.5"/>
<path d="M197.7,1720.4 V1713.2 M193.7,1713.2 H201.7" stroke="#000" stroke-width="2.1" fill="none"/>
<rect x="192.39" y="1721.65" width="10.70" height="333.35" fill="#1191fa" stroke="#000" stroke-width="2.5"/>
<path d="M213.8,1799.6 V1797.5 M209.8,1797.5 H217.8" stroke="#000" stroke-width="2.1" fill="none"/>
<rect x="208.46" y="1800.85" width="10.70" height="254.15" fill="#1191fa" stroke="#000" stroke-width="2.5"/>
<rect x="224.53" y="1803.65" width="10.70" height="251.35" fill="#1191fa" stroke="#000" stroke-width="2.5"/>
<path d="M245.9,1846.0 V1834.0 M241.9,1834.0 H249.9" stroke="#000" stroke-width="2.1" fill="none"/>
<rect x="240.60" y="1847.25" width="10.70" height="207.75" fill="#1191fa" stroke="#000" stroke-width="2.5"/>
<rect x="256.67" y="1856.05" width="10.70" height="198.95" fill="#1191fa" stroke="#000" stroke-width="2.5"/>
<path d="M289.0,1902.0 V1887.6 M285.0,1887.6 H293.0" stroke="#000" stroke-width="2.1" fill="none"/>
<rect x="283.65" y="1903.25" width="10.70" height="151.75" fill="#8f1a0c" stroke="#000" stroke-width="2.5"/>
<path d="M305.1,1814.4 V1812.5 M301.1,1812.5 H309.1" stroke="#000" stroke-width="2.1" fill="none"/>
<rect x="299.72" y="1815.65" width="10.70" height="239.35" fill="#8f1a0c" stroke="#000" stroke-width="2.5"/>
<path d="M321.1,1726.0 V1724.0 M317.1,1724.0 H325.1" stroke="#000" stroke-width="2.1" fill="none"/>
<rect x="315.79" y="1727.25" width="10.70" height="327.75" fill="#8f1a0c" stroke="#000" stroke-width="2.5"/>
<path d="M337.2,1678.8 V1677.0 M333.2,1677.0 H341.2" stroke="#000" stroke-width="2.1" fill="none"/>
<rect x="331.86" y="1680.05" width="10.70" height="374.95" fill="#8f1a0c" stroke="#000" stroke-width="2.5"/>
<rect x="347.93" y="1688.85" width="10.70" height="366.15" fill="#8f1a0c" stroke="#000" stroke-width="2.5"/>
<rect x="364.00" y="1705.25" width="10.70" height="349.75" fill="#8f1a0c" stroke="#000" stroke-width="2.5"/>
<path d="M385.4,1720.8 V1717.2 M381.4,1717.2 H389.4" stroke="#000" stroke-width="2.1" fill="none"/>
<rect x="380.07" y="1722.05" width="10.70" height="332.95" fill="#8f1a0c" stroke="#000" stroke-width="2.5"/>
<path d="M412.4,1879.2 V1874.8 M408.4,1874.8 H416.4" stroke="#000" stroke-width="2.1" fill="none"/>
<rect x="407.05" y="1880.45" width="10.70" height="174.55" fill="#ff2a05" stroke="#000" stroke-width="2.5"/>
<path d="M428.5,1831.2 V1830.0 M424.5,1830.0 H432.5" stroke="#000" stroke-width="2.1" fill="none"/>
<rect x="423.12" y="1832.45" width="10.70" height="222.55" fill="#ff2a05" stroke="#000" stroke-width="2.5"/>
<path d="M444.5,1832.0 V1830.5 M440.5,1830.5 H448.5" stroke="#000" stroke-width="2.1" fill="none"/>
<rect x="439.19" y="1833.25" width="10.70" height="221.75" fill="#ff2a05" stroke="#000" stroke-width="2.5"/>
<path d="M460.6,1884.4 V1882.0 M456.6,1882.0 H464.6" stroke="#000" stroke-width="2.1" fill="none"/>
<rect x="455.26" y="1885.65" width="10.70" height="169.35" fill="#ff2a05" stroke="#000" stroke-width="2.5"/>
<path d="M476.7,1932.8 V1915.6 M472.7,1915.6 H480.7" stroke="#000" stroke-width="2.1" fill="none"/>
<rect x="471.33" y="1934.05" width="10.70" height="120.95" fill="#ff2a05" stroke="#000" stroke-width="2.5"/>
<path d="M492.8,1898.0 V1889.2 M488.8,1889.2 H496.8" stroke="#000" stroke-width="2.1" fill="none"/>
<rect x="487.40" y="1899.25" width="10.70" height="155.75" fill="#ff2a05" stroke="#000" stroke-width="2.5"/>
<path d="M508.8,1894.0 V1886.0 M504.8,1886.0 H512.8" stroke="#000" stroke-width="2.1" fill="none"/>
<rect x="503.47" y="1895.25" width="10.70" height="159.75" fill="#ff2a05" stroke="#000" stroke-width="2.5"/>
<path d="M536.0,1898.4 V1881.2 M532.0,1881.2 H540.0" stroke="#000" stroke-width="2.1" fill="none"/>
<rect x="530.65" y="1899.65" width="10.70" height="155.35" fill="#ff8886" stroke="#000" stroke-width="2.5"/>
<path d="M552.1,1926.8 V1915.2 M548.1,1915.2 H556.1" stroke="#000" stroke-width="2.1" fill="none"/>
<rect x="546.72" y="1928.05" width="10.70" height="126.95" fill="#ff8886" stroke="#000" stroke-width="2.5"/>
<path d="M568.1,1912.0 V1869.2 M564.1,1869.2 H572.1" stroke="#000" stroke-width="2.1" fill="none"/>
<rect x="562.79" y="1913.25" width="10.70" height="141.75" fill="#ff8886" stroke="#000" stroke-width="2.5"/>
<path d="M584.2,1861.2 V1859.5 M580.2,1859.5 H588.2" stroke="#000" stroke-width="2.1" fill="none"/>
<rect x="578.86" y="1862.45" width="10.70" height="192.55" fill="#ff8886" stroke="#000" stroke-width="2.5"/>
<path d="M600.3,1860.8 V1850.0 M596.3,1850.0 H604.3" stroke="#000" stroke-width="2.1" fill="none"/>
<rect x="594.93" y="1862.05" width="10.70" height="192.95" fill="#ff8886" stroke="#000" stroke-width="2.5"/>
<path d="M616.4,1897.6 V1887.6 M612.4,1887.6 H620.4" stroke="#000" stroke-width="2.1" fill="none"/>
<rect x="611.00" y="1898.85" width="10.70" height="156.15" fill="#ff8886" stroke="#000" stroke-width="2.5"/>
<rect x="627.07" y="1942.45" width="10.70" height="112.55" fill="#ff8886" stroke="#000" stroke-width="2.5"/>
<g stroke="#000" fill="none">
<path d="M152.4,1663.4 V2056.7" stroke-width="3.3"/>
<path d="M144.0,2055.0 H152.4" stroke-width="3.2"/>
<path d="M147.0,2040.3 H152.4" stroke-width="2.2"/>
<path d="M147.0,2031.7 H152.4" stroke-width="2.2"/>
<path d="M147.0,2025.6 H152.4" stroke-width="2.2"/>
<path d="M147.0,2020.9 H152.4" stroke-width="2.2"/>
<path d="M147.0,2017.1 H152.4" stroke-width="2.2"/>
<path d="M147.0,2013.8 H152.4" stroke-width="2.2"/>
<path d="M147.0,2011.0 H152.4" stroke-width="2.2"/>
<path d="M147.0,2008.5 H152.4" stroke-width="2.2"/>
<path d="M144.0,2006.2 H152.4" stroke-width="3.2"/>
<path d="M147.0,1991.6 H152.4" stroke-width="2.2"/>
<path d="M147.0,1983.0 H152.4" stroke-width="2.2"/>
<path d="M147.0,1976.9 H152.4" stroke-width="2.2"/>
<path d="M147.0,1972.2 H152.4" stroke-width="2.2"/>
<path d="M147.0,1968.3 H152.4" stroke-width="2.2"/>
<path d="M147.0,1965.1 H152.4" stroke-width="2.2"/>
<path d="M147.0,1962.2 H152.4" stroke-width="2.2"/>
<path d="M147.0,1959.7 H152.4" stroke-width="2.2"/>
<path d="M144.0,1957.5 H152.4" stroke-width="3.2"/>
<path d="M147.0,1942.8 H152.4" stroke-width="2.2"/>
<path d="M147.0,1934.2 H152.4" stroke-width="2.2"/>
<path d="M147.0,1928.1 H152.4" stroke-width="2.2"/>
<path d="M147.0,1923.4 H152.4" stroke-width="2.2"/>
<path d="M147.0,1919.6 H152.4" stroke-width="2.2"/>
<path d="M147.0,1916.3 H152.4" stroke-width="2.2"/>
<path d="M147.0,1913.5 H152.4" stroke-width="2.2"/>
<path d="M147.0,1911.0 H152.4" stroke-width="2.2"/>
<path d="M144.0,1908.8 H152.4" stroke-width="3.2"/>
<path d="M147.0,1894.1 H152.4" stroke-width="2.2"/>
<path d="M147.0,1885.5 H152.4" stroke-width="2.2"/>
<path d="M147.0,1879.4 H152.4" stroke-width="2.2"/>
<path d="M147.0,1874.7 H152.4" stroke-width="2.2"/>
<path d="M147.0,1870.8 H152.4" stroke-width="2.2"/>
<path d="M147.0,1867.6 H152.4" stroke-width="2.2"/>
<path d="M147.0,1864.7 H152.4" stroke-width="2.2"/>
<path d="M147.0,1862.2 H152.4" stroke-width="2.2"/>
<path d="M144.0,1860.0 H152.4" stroke-width="3.2"/>
<path d="M147.0,1845.3 H152.4" stroke-width="2.2"/>
<path d="M147.0,1836.7 H152.4" stroke-width="2.2"/>
<path d="M147.0,1830.6 H152.4" stroke-width="2.2"/>
<path d="M147.0,1825.9 H152.4" stroke-width="2.2"/>
<path d="M147.0,1822.1 H152.4" stroke-width="2.2"/>
<path d="M147.0,1818.8 H152.4" stroke-width="2.2"/>
<path d="M147.0,1816.0 H152.4" stroke-width="2.2"/>
<path d="M147.0,1813.5 H152.4" stroke-width="2.2"/>
<path d="M144.0,1811.2 H152.4" stroke-width="3.2"/>
<path d="M147.0,1796.6 H152.4" stroke-width="2.2"/>
<path d="M147.0,1788.0 H152.4" stroke-width="2.2"/>
<path d="M147.0,1781.9 H152.4" stroke-width="2.2"/>
<path d="M147.0,1777.2 H152.4" stroke-width="2.2"/>
<path d="M147.0,1773.3 H152.4" stroke-width="2.2"/>
<path d="M147.0,1770.1 H152.4" stroke-width="2.2"/>
<path d="M147.0,1767.2 H152.4" stroke-width="2.2"/>
<path d="M147.0,1764.7 H152.4" stroke-width="2.2"/>
<path d="M144.0,1762.5 H152.4" stroke-width="3.2"/>
<path d="M147.0,1747.8 H152.4" stroke-width="2.2"/>
<path d="M147.0,1739.2 H152.4" stroke-width="2.2"/>
<path d="M147.0,1733.1 H152.4" stroke-width="2.2"/>
<path d="M147.0,1728.4 H152.4" stroke-width="2.2"/>
<path d="M147.0,1724.6 H152.4" stroke-width="2.2"/>
<path d="M147.0,1721.3 H152.4" stroke-width="2.2"/>
<path d="M147.0,1718.5 H152.4" stroke-width="2.2"/>
<path d="M147.0,1716.0 H152.4" stroke-width="2.2"/>
<path d="M144.0,1713.8 H152.4" stroke-width="3.2"/>
<path d="M147.0,1699.1 H152.4" stroke-width="2.2"/>
<path d="M147.0,1690.5 H152.4" stroke-width="2.2"/>
<path d="M147.0,1684.4 H152.4" stroke-width="2.2"/>
<path d="M147.0,1679.7 H152.4" stroke-width="2.2"/>
<path d="M147.0,1675.8 H152.4" stroke-width="2.2"/>
<path d="M147.0,1672.6 H152.4" stroke-width="2.2"/>
<path d="M147.0,1669.7 H152.4" stroke-width="2.2"/>
<path d="M147.0,1667.2 H152.4" stroke-width="2.2"/>
<path d="M144.0,1665.0 H152.4" stroke-width="3.2"/>
<path d="M144.0,2055.0 H646.5" stroke-width="3.6"/>
<path d="M165.6,2055.0 V2063.5" stroke-width="3.2"/>
<path d="M181.7,2055.0 V2063.5" stroke-width="3.2"/>
<path d="M197.7,2055.0 V2063.5" stroke-width="3.2"/>
<path d="M213.8,2055.0 V2063.5" stroke-width="3.2"/>
<path d="M229.9,2055.0 V2063.5" stroke-width="3.2"/>
<path d="M245.9,2055.0 V2063.5" stroke-width="3.2"/>
<path d="M262.0,2055.0 V2063.5" stroke-width="3.2"/>
<path d="M289.0,2055.0 V2063.5" stroke-width="3.2"/>
<path d="M305.1,2055.0 V2063.5" stroke-width="3.2"/>
<path d="M321.1,2055.0 V2063.5" stroke-width="3.2"/>
<path d="M337.2,2055.0 V2063.5" stroke-width="3.2"/>
<path d="M353.3,2055.0 V2063.5" stroke-width="3.2"/>
<path d="M369.4,2055.0 V2063.5" stroke-width="3.2"/>
<path d="M385.4,2055.0 V2063.5" stroke-width="3.2"/>
<path d="M412.4,2055.0 V2063.5" stroke-width="3.2"/>
<path d="M428.5,2055.0 V2063.5" stroke-width="3.2"/>
<path d="M444.5,2055.0 V2063.5" stroke-width="3.2"/>
<path d="M460.6,2055.0 V2063.5" stroke-width="3.2"/>
<path d="M476.7,2055.0 V2063.5" stroke-width="3.2"/>
<path d="M492.8,2055.0 V2063.5" stroke-width="3.2"/>
<path d="M508.8,2055.0 V2063.5" stroke-width="3.2"/>
<path d="M536.0,2055.0 V2063.5" stroke-width="3.2"/>
<path d="M552.1,2055.0 V2063.5" stroke-width="3.2"/>
<path d="M568.1,2055.0 V2063.5" stroke-width="3.2"/>
<path d="M584.2,2055.0 V2063.5" stroke-width="3.2"/>
<path d="M600.3,2055.0 V2063.5" stroke-width="3.2"/>
<path d="M616.4,2055.0 V2063.5" stroke-width="3.2"/>
<path d="M632.4,2055.0 V2063.5" stroke-width="3.2"/>
</g>
<text font-size="31" transform="translate(90.29,2061.9) scale(1.0258,1)">10</text>
<text font-size="17.8" transform="translate(126.02,2043.1) scale(1.0350,1)">0</text>
<text font-size="31" transform="translate(90.29,2013.7) scale(1.0258,1)">10</text>
<text font-size="17.8" transform="translate(126.71,1994.9) scale(1.0350,1)">1</text>
<text font-size="31" transform="translate(90.29,1965.5) scale(1.0258,1)">10</text>
<text font-size="17.8" transform="translate(125.77,1946.7) scale(1.0350,1)">2</text>
<text font-size="31" transform="translate(90.29,1917.3) scale(1.0258,1)">10</text>
<text font-size="17.8" transform="translate(126.02,1898.5) scale(1.0350,1)">3</text>
<text font-size="31" transform="translate(90.29,1869.1) scale(1.0258,1)">10</text>
<text font-size="17.8" transform="translate(126.28,1850.3) scale(1.0350,1)">4</text>
<text font-size="31" transform="translate(90.29,1820.9) scale(1.0258,1)">10</text>
<text font-size="17.8" transform="translate(126.02,1802.1) scale(1.0350,1)">5</text>
<text font-size="31" transform="translate(90.29,1772.7) scale(1.0258,1)">10</text>
<text font-size="17.8" transform="translate(125.77,1753.9) scale(1.0350,1)">6</text>
<text font-size="31" transform="translate(90.29,1724.5) scale(1.0258,1)">10</text>
<text font-size="17.8" transform="translate(125.77,1705.7) scale(1.0350,1)">7</text>
<text font-size="31" transform="translate(90.29,1676.3) scale(1.0258,1)">10</text>
<text font-size="17.8" transform="translate(126.02,1657.5) scale(1.0350,1)">8</text>
<text font-size="31.3" text-anchor="end" transform="translate(197.47,2093.00) scale(1.03,1) rotate(-45)">7</text>
<text font-size="31.3" text-anchor="end" transform="translate(231.51,2085.00) scale(1.03,1) rotate(-45)">17</text>
<text font-size="31.3" text-anchor="end" transform="translate(267.35,2087.50) scale(1.03,1) rotate(-45)">28</text>
<text font-size="31.3" text-anchor="end" transform="translate(320.57,2093.30) scale(1.03,1) rotate(-45)">7</text>
<text font-size="31.3" text-anchor="end" transform="translate(354.61,2085.30) scale(1.03,1) rotate(-45)">17</text>
<text font-size="31.3" text-anchor="end" transform="translate(390.45,2087.80) scale(1.03,1) rotate(-45)">28</text>
<text font-size="31.3" text-anchor="end" transform="translate(444.27,2096.20) scale(1.03,1) rotate(-45)">7</text>
<text font-size="31.3" text-anchor="end" transform="translate(478.31,2088.20) scale(1.03,1) rotate(-45)">17</text>
<text font-size="31.3" text-anchor="end" transform="translate(514.15,2090.70) scale(1.03,1) rotate(-45)">28</text>
<text font-size="31.3" text-anchor="end" transform="translate(564.17,2098.80) scale(1.03,1) rotate(-45)">7</text>
<text font-size="31.3" text-anchor="end" transform="translate(598.21,2090.80) scale(1.03,1) rotate(-45)">17</text>
<text font-size="31.3" text-anchor="end" transform="translate(634.05,2093.30) scale(1.03,1) rotate(-45)">28</text>
<text font-size="31" transform="translate(365.69,2148.3) scale(1.0448,1)">Days</text>
<text font-size="32" transform="translate(66,2057.91) rotate(-90) scale(1.0059,1.035)">Oocysts per gram faeces (log)</text>
</g>
</svg>
</body></html>
